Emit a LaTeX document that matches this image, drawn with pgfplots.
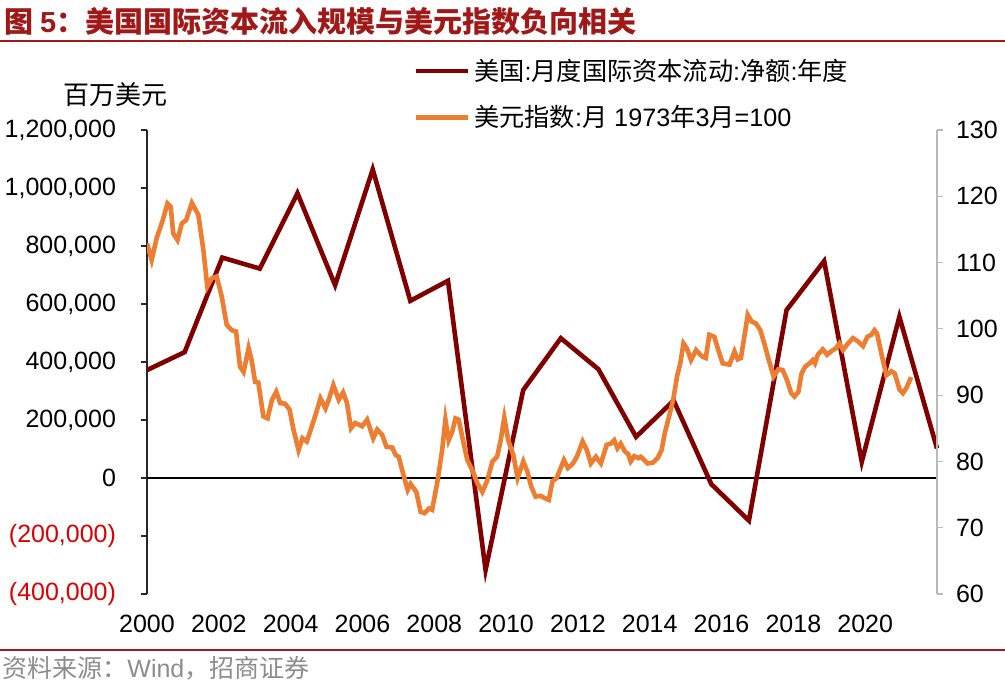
\documentclass[border=0pt]{standalone}
\usepackage{pgfplots}
\pgfplotsset{compat=1.18}
\usepackage{fontspec}
\setmainfont{Liberation Sans}
\newfontfamily\cjk{Noto Sans CJK SC}
\definecolor{flow}{RGB}{128,0,0}
\definecolor{dxy}{RGB}{237,125,49}
\definecolor{brand}{RGB}{160,25,25}
\definecolor{negred}{RGB}{220,0,0}
\definecolor{srcgray}{RGB}{140,140,140}

% annual net flow, million USD (22 points spread over the axis)
\pgfplotstableread{
x y
2000.000 372000
2001.048 434000
2002.095 760000
2003.143 722000
2004.190 982000
2005.238 665000
2006.286 1064000
2007.333 611000
2008.381 680000
2009.429 -317000
2010.476 303000
2011.524 482000
2012.571 375000
2013.619 142000
2014.667 267000
2015.714 -21000
2016.762 -147000
2017.810 579000
2018.857 748000
2019.905 56000
2020.952 556000
2022.000 102000
}\flowtab

% dollar index, monthly
\pgfplotstableread{
x y
2000.00 112.9
2000.13 110.4
2000.27 113.7
2000.44 116.4
2000.57 118.9
2000.66 118.4
2000.73 114.4
2000.85 113.4
2000.97 115.9
2001.09 116.4
2001.25 119.0
2001.43 117.2
2001.57 111.9
2001.68 106.4
2001.80 107.6
2001.94 107.9
2002.08 104.9
2002.22 100.6
2002.36 99.8
2002.48 99.6
2002.59 94.3
2002.69 93.5
2002.83 97.1
2002.92 95.1
2003.01 92.0
2003.10 91.9
2003.24 86.8
2003.36 86.5
2003.48 89.3
2003.60 90.5
2003.71 88.8
2003.85 88.7
2003.97 87.8
2004.08 84.8
2004.22 81.7
2004.33 83.5
2004.45 83.0
2004.59 85.3
2004.71 87.3
2004.83 89.5
2004.97 88.0
2005.06 89.3
2005.19 91.5
2005.34 89.3
2005.46 90.4
2005.57 88.8
2005.68 85.0
2005.80 85.8
2005.99 85.3
2006.13 86.3
2006.30 83.5
2006.41 84.8
2006.55 84.0
2006.67 82.2
2006.83 82.1
2006.92 81.0
2007.01 80.7
2007.13 78.2
2007.26 75.7
2007.34 76.6
2007.50 75.4
2007.62 72.4
2007.73 72.2
2007.85 72.9
2007.94 72.7
2008.08 76.7
2008.22 81.7
2008.31 86.3
2008.40 83.2
2008.50 84.5
2008.59 86.5
2008.68 86.3
2008.78 83.7
2008.92 80.2
2009.06 78.7
2009.20 76.7
2009.34 75.4
2009.48 77.2
2009.62 80.0
2009.75 80.7
2009.85 83.2
2009.95 86.6
2010.06 83.2
2010.20 81.0
2010.32 77.5
2010.48 80.0
2010.59 78.5
2010.70 76.2
2010.82 74.7
2010.96 74.8
2011.10 74.4
2011.19 74.2
2011.29 77.0
2011.41 77.5
2011.52 79.0
2011.61 80.2
2011.72 79.0
2011.85 79.6
2011.97 80.7
2012.13 83.0
2012.25 81.7
2012.36 79.7
2012.50 80.7
2012.64 79.7
2012.80 82.5
2012.92 82.7
2013.01 83.2
2013.10 82.0
2013.19 82.7
2013.31 81.5
2013.40 81.1
2013.47 80.0
2013.57 80.8
2013.68 80.5
2013.75 80.7
2013.94 79.7
2014.08 79.8
2014.22 80.5
2014.33 81.7
2014.42 84.3
2014.54 86.8
2014.66 89.5
2014.76 92.8
2014.85 94.8
2014.94 97.8
2015.03 97.1
2015.15 95.3
2015.29 96.8
2015.41 96.1
2015.47 95.8
2015.56 95.6
2015.66 99.1
2015.80 98.8
2015.91 96.8
2016.03 94.8
2016.22 94.6
2016.36 96.6
2016.45 95.4
2016.54 95.6
2016.73 102.1
2016.84 101.1
2016.96 100.8
2017.08 99.8
2017.19 97.8
2017.30 95.6
2017.45 92.8
2017.58 93.9
2017.70 93.8
2017.82 92.3
2017.94 90.3
2018.03 89.8
2018.14 90.5
2018.23 93.3
2018.33 94.3
2018.45 94.8
2018.54 95.3
2018.60 94.8
2018.68 96.1
2018.82 96.9
2018.94 96.1
2019.05 96.6
2019.19 97.1
2019.28 97.8
2019.38 96.8
2019.52 97.8
2019.66 98.6
2019.80 98.1
2019.94 97.4
2020.06 98.8
2020.17 99.1
2020.26 99.8
2020.33 99.3
2020.45 96.3
2020.59 93.0
2020.73 93.6
2020.82 93.3
2020.96 90.8
2021.05 90.3
2021.15 91.1
2021.28 92.7
}\dxytab

\begin{document}
\begin{tikzpicture}
\path[use as bounding box] (0,0) rectangle (502.5pt,342.5pt);

% title and source
\node[anchor=west, text=brand, inner sep=0pt] at (2pt,332pt)
  {\cjk\bfseries\fontsize{14.5}{14.5}\selectfont 图 {\rmfamily\bfseries 5}：美国国际资本流入规模与美元指数负向相关};
\draw[brand, line width=1pt] (0,322pt) -- (502.5pt,322pt);
\draw[brand, line width=1pt] (0,17.5pt) -- (502.5pt,17.5pt);
\node[anchor=west, text=srcgray, inner sep=0pt] at (1pt,8.5pt)
  {\fontsize{12.5}{12.5}\selectfont{\cjk 资料来源：}Wind{\cjk ，招商证券}};
\node[inner sep=0pt] at (57.5pt,295pt) {\cjk\fontsize{13}{13}\selectfont 百万美元};

\begin{axis}[
  at={(73.5pt,45.5pt)}, anchor=south west,
  scale only axis, width=395pt, height=232pt,
  xmin=2000, xmax=2022,
  ymin=-400000, ymax=1200000,
  axis x line*=bottom, axis y line*=left,
  x axis line style={draw=none},
  xtick={2000,2002,2004,2006,2008,2010,2012,2014,2016,2018,2020},
  xticklabels={2000,2002,2004,2006,2008,2010,2012,2014,2016,2018,2020},
  xtick style={draw=none},
  xticklabel style={font=\fontsize{12.5}{12.5}\selectfont, yshift=-4pt},
  ytick={-400000,-200000,0,200000,400000,600000,800000,1000000,1200000},
  yticklabels={{\color{negred}(400,000)},{\color{negred}(200,000)},0,{200,000},{400,000},{600,000},{800,000},{1,000,000},{1,200,000}},
  scaled y ticks=false,
  yticklabel style={font=\fontsize{12.5}{12.5}\selectfont, xshift=-9pt},
  tick align=outside, major tick length=3pt,
  y axis line style={black!85, line width=0.6pt},
  ytick style={black!85, line width=0.6pt},
  extra y ticks={0}, extra y tick labels={},
  extra y tick style={grid=major, major grid style={black, line width=0.9pt}},
  clip=false,
]
\addplot[flow, line width=2.3pt] table[x=x, y=y] {\flowtab};
\end{axis}

\begin{axis}[
  at={(73.5pt,45.5pt)}, anchor=south west,
  scale only axis, width=395pt, height=232pt,
  xmin=2000, xmax=2022,
  ymin=60, ymax=130,
  hide x axis,
  axis y line*=right,
  ytick={60,70,80,90,100,110,120,130},
  /pgf/number format/assume math mode=true,
  yticklabel style={font=\fontsize{12.5}{12.5}\selectfont, xshift=3pt},
  tick align=outside, major tick length=3pt,
  y axis line style={gray!55, line width=0.6pt},
  ytick style={gray!55, line width=0.6pt},
  legend style={at={(0.337,1.163)}, anchor=north west, draw=none, fill=none,
    font=\fontsize{12.6}{12.6}\selectfont, row sep=7pt, inner sep=0pt,
    nodes={inner sep=2pt}},
  legend cell align=left,
  legend image code/.code={\draw[#1] (0pt,0pt) -- (26pt,0pt);},
]
\addlegendimage{flow, line width=2.3pt}
\addlegendentry{{\cjk 美国}:{\cjk 月度国际资本流动}:{\cjk 净额}:{\cjk 年度}}
\addplot[dxy, line width=2.3pt] table[x=x, y=y] {\dxytab};
\addlegendentry{{\cjk 美元指数}:{\cjk 月} 1973{\cjk 年}3{\cjk 月}=100}
\end{axis}
\end{tikzpicture}
\end{document}
